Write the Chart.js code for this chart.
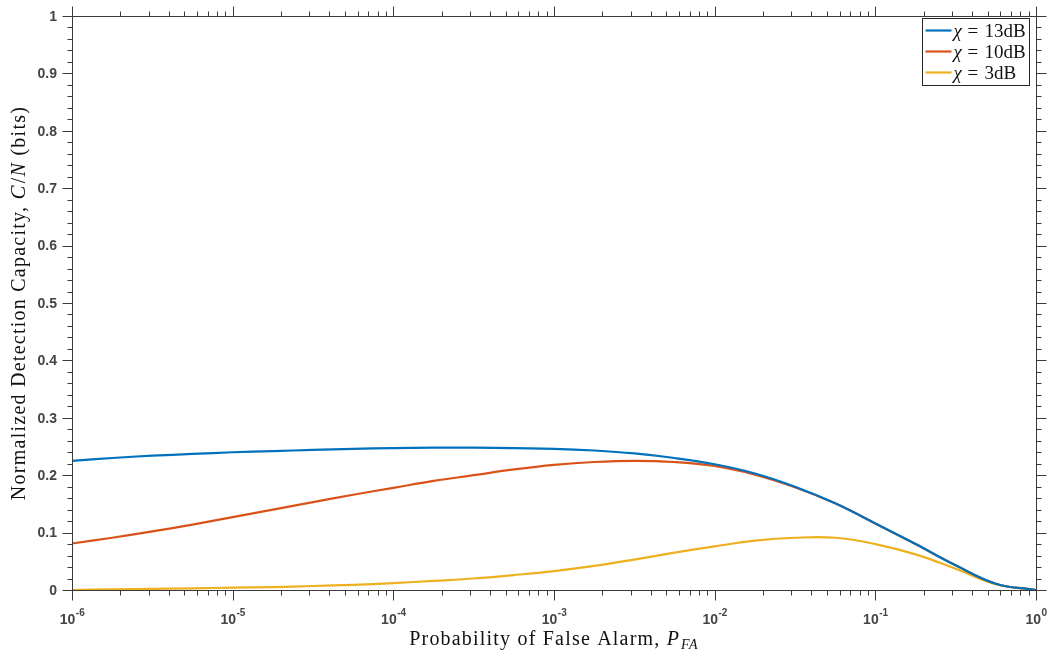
<!DOCTYPE html>
<html>
<head>
<meta charset="utf-8">
<script src="https://cdn.jsdelivr.net/npm/chart.js@4.4.1/dist/chart.umd.min.js"></script>
<style>
html,body{margin:0;padding:0;background:#fff;}
#wrap{width:1054px;height:656px;position:relative;}
</style>
</head>
<body>
<div id="wrap"><canvas id="c" width="1054" height="656"></canvas></div>
<script>
// Probability of false alarm (x values), quarter decades
const pfa = [1e-6, 1.78e-6, 3.16e-6, 5.62e-6, 1e-5, 1.78e-5, 3.16e-5, 5.62e-5, 1e-4, 1.78e-4, 3.16e-4, 5.62e-4,
             1e-3, 1.78e-3, 3.16e-3, 5.62e-3, 1e-2, 1.78e-2, 3.16e-2, 5.62e-2, 1e-1, 1.78e-1, 3.16e-1, 5.62e-1, 1];
// Normalized detection capacity per series
const chi13 = [0.225, 0.230, 0.234, 0.237, 0.240, 0.242, 0.244, 0.246, 0.247, 0.248, 0.248, 0.247,
               0.246, 0.243, 0.238, 0.230, 0.219, 0.203, 0.180, 0.151, 0.116, 0.080, 0.043, 0.011, 0];
const chi10 = [0.081, 0.091, 0.102, 0.114, 0.127, 0.140, 0.153, 0.166, 0.178, 0.190, 0.200, 0.210,
               0.218, 0.223, 0.225, 0.223, 0.216, 0.201, 0.179, 0.151, 0.116, 0.080, 0.043, 0.011, 0];
const chi3  = [0.000, 0.001, 0.002, 0.003, 0.004, 0.005, 0.007, 0.009, 0.012, 0.016, 0.020, 0.026,
               0.033, 0.042, 0.053, 0.065, 0.076, 0.086, 0.091, 0.091, 0.080, 0.062, 0.037, 0.010, 0];
const seriesNames = ['13dB', '10dB', '3dB'];
const seriesColors = ['#0072BD', '#D95319', '#EDB120'];
const xMajorExps = [-6, -5, -4, -3, -2, -1, 0];
const yTicks = [0, 0.1, 0.2, 0.3, 0.4, 0.5, 0.6, 0.7, 0.8, 0.9, 1];
const yTickLabels = ['0', '0.1', '0.2', '0.3', '0.4', '0.5', '0.6', '0.7', '0.8', '0.9', '1'];

const toPts = arr => arr.map((v, i) => ({x: pfa[i], y: v}));
const seriesData = [chi13, chi10, chi3];

const AX = '#3a3a3a';
const TICKFONT = 'bold 14px "Liberation Sans", Arial, sans-serif';
const SUPFONT = 'bold 10px "Liberation Sans", Arial, sans-serif';
const SERIF = '"Liberation Serif", "Times New Roman", serif';

function drawParts(ctx, parts, cx, cy, spacing) {
  ctx.letterSpacing = spacing + 'px';
  let tot = 0;
  parts.forEach(p => { ctx.font = p[1]; p.w = ctx.measureText(p[0]).width; tot += p.w + (p[3] || 0); });
  let x = cx - tot / 2;
  parts.forEach(p => { ctx.font = p[1]; ctx.fillText(p[0], x, cy + (p[2] || 0)); x += p.w + (p[3] || 0); });
  ctx.letterSpacing = '0px';
}

const matlabPlugin = {
  id: 'matlab',
  afterDatasetsDraw(chart) {
    const ctx = chart.ctx;
    const ca = chart.chartArea;
    const xs = chart.scales.x, ys = chart.scales.y;
    const L = Math.round(ca.left) + 0.5, R = Math.round(ca.right) + 0.5;
    const T = Math.round(ca.top) + 0.5, B = Math.round(ca.bottom) + 0.5;
    ctx.save();
    ctx.strokeStyle = AX;
    ctx.lineWidth = 1;
    ctx.strokeRect(L, T, R - L, B - T);
    ctx.beginPath();
    for (const e of xMajorExps) {
      const px = Math.round(xs.getPixelForValue(Math.pow(10, e))) + 0.5;
      ctx.moveTo(px, B); ctx.lineTo(px, B + 10);
      ctx.moveTo(px, T); ctx.lineTo(px, T - 10);
      if (e < 0) {
        for (let m = 2; m <= 9; m++) {
          const q = Math.round(xs.getPixelForValue(m * Math.pow(10, e))) + 0.5;
          ctx.moveTo(q, B); ctx.lineTo(q, B + 5);
          ctx.moveTo(q, T); ctx.lineTo(q, T - 5);
        }
      }
    }
    for (let k = 0; k <= 50; k++) {
      const v = k / 50;
      const py = Math.round(ys.getPixelForValue(v)) + 0.5;
      const len = (k % 5 === 0) ? 10 : 5;
      ctx.moveTo(L, py); ctx.lineTo(L - len, py);
      ctx.moveTo(R, py); ctx.lineTo(R + len, py);
    }
    ctx.stroke();

    // y tick labels
    ctx.fillStyle = '#444';
    ctx.font = TICKFONT;
    ctx.textAlign = 'right';
    ctx.textBaseline = 'middle';
    yTicks.forEach((v, i) => {
      ctx.fillText(yTickLabels[i], ca.left - 15, ys.getPixelForValue(v) + 1);
    });
    // x tick labels 10^e
    ctx.textBaseline = 'alphabetic';
    ctx.textAlign = 'left';
    for (const e of xMajorExps) {
      const px = xs.getPixelForValue(Math.pow(10, e));
      ctx.font = TICKFONT;
      const w1 = ctx.measureText('10').width;
      const sup = String(e);
      ctx.font = SUPFONT;
      const w2 = ctx.measureText(sup).width;
      const x0 = px - (w1 + w2) / 2;
      ctx.font = TICKFONT;
      ctx.fillText('10', x0, ca.bottom + 34);
      ctx.font = SUPFONT;
      ctx.fillText(sup, x0 + w1 + 0.5, ca.bottom + 26);
    }

    // x axis title
    ctx.fillStyle = '#111';
    const xc = (ca.left + ca.right) / 2;
    drawParts(ctx, [
      ['Probability of False Alarm, ', '20px ' + SERIF, 0, 0],
      ['P', 'italic 20px ' + SERIF, 0, 1],
      ['FA', 'italic 14px ' + SERIF, 4, 0]
    ], xc, 645, 1.2);

    // y axis title (rotated)
    ctx.save();
    ctx.translate(25, (ca.top + ca.bottom) / 2);
    ctx.rotate(-Math.PI / 2);
    drawParts(ctx, [
      ['Normalized Detection Capacity, ', '20px ' + SERIF, 0, 0],
      ['C', 'italic 21px ' + SERIF, 0, 1],
      ['/', '20px ' + SERIF, 0, 0],
      ['N', 'italic 20px ' + SERIF, 0, 0],
      [' (bits)', '20px ' + SERIF, 0, 0]
    ], 0, 0, 1.25);
    ctx.restore();

    // legend
    const lx = 922.5, ly = 18.5, lw = 107, lh = 67;
    ctx.fillStyle = '#fff';
    ctx.fillRect(lx, ly, lw, lh);
    ctx.strokeStyle = '#262626';
    ctx.lineWidth = 1;
    ctx.strokeRect(lx, ly, lw, lh);
    seriesNames.forEach((nm, i) => {
      const yy = ly + 12 + i * 21;
      ctx.strokeStyle = seriesColors[i];
      ctx.lineWidth = 2.2;
      ctx.beginPath(); ctx.moveTo(lx + 3, yy); ctx.lineTo(lx + 29, yy); ctx.stroke();
      ctx.fillStyle = '#111';
      ctx.textBaseline = 'alphabetic';
      ctx.font = 'italic 19px ' + SERIF;
      ctx.fillText('\u03C7', lx + 31, yy + 6);
      ctx.font = '19px ' + SERIF;
      ctx.fillText('=', lx + 45, yy + 6);
      ctx.fillText(nm, lx + 62, yy + 6);
    });
    ctx.restore();
  }
};

new Chart(document.getElementById('c'), {
  type: 'line',
  data: {
    datasets: seriesData.map((d, i) => ({
      label: '\u03C7 = ' + seriesNames[i],
      data: toPts(d),
      borderColor: seriesColors[i],
      backgroundColor: seriesColors[i],
      borderWidth: 2.2,
      pointRadius: 0,
      tension: 0.4,
      fill: false
    }))
  },
  options: {
    responsive: false,
    animation: false,
    devicePixelRatio: 1,
    layout: { padding: { left: 72, top: 16, right: 18, bottom: 66 } },
    plugins: { legend: { display: false }, tooltip: { enabled: false } },
    scales: {
      x: { type: 'logarithmic', min: 1e-6, max: 1, display: false },
      y: { type: 'linear', min: 0, max: 1, display: false }
    }
  },
  plugins: [matlabPlugin]
});
</script>
</body>
</html>
